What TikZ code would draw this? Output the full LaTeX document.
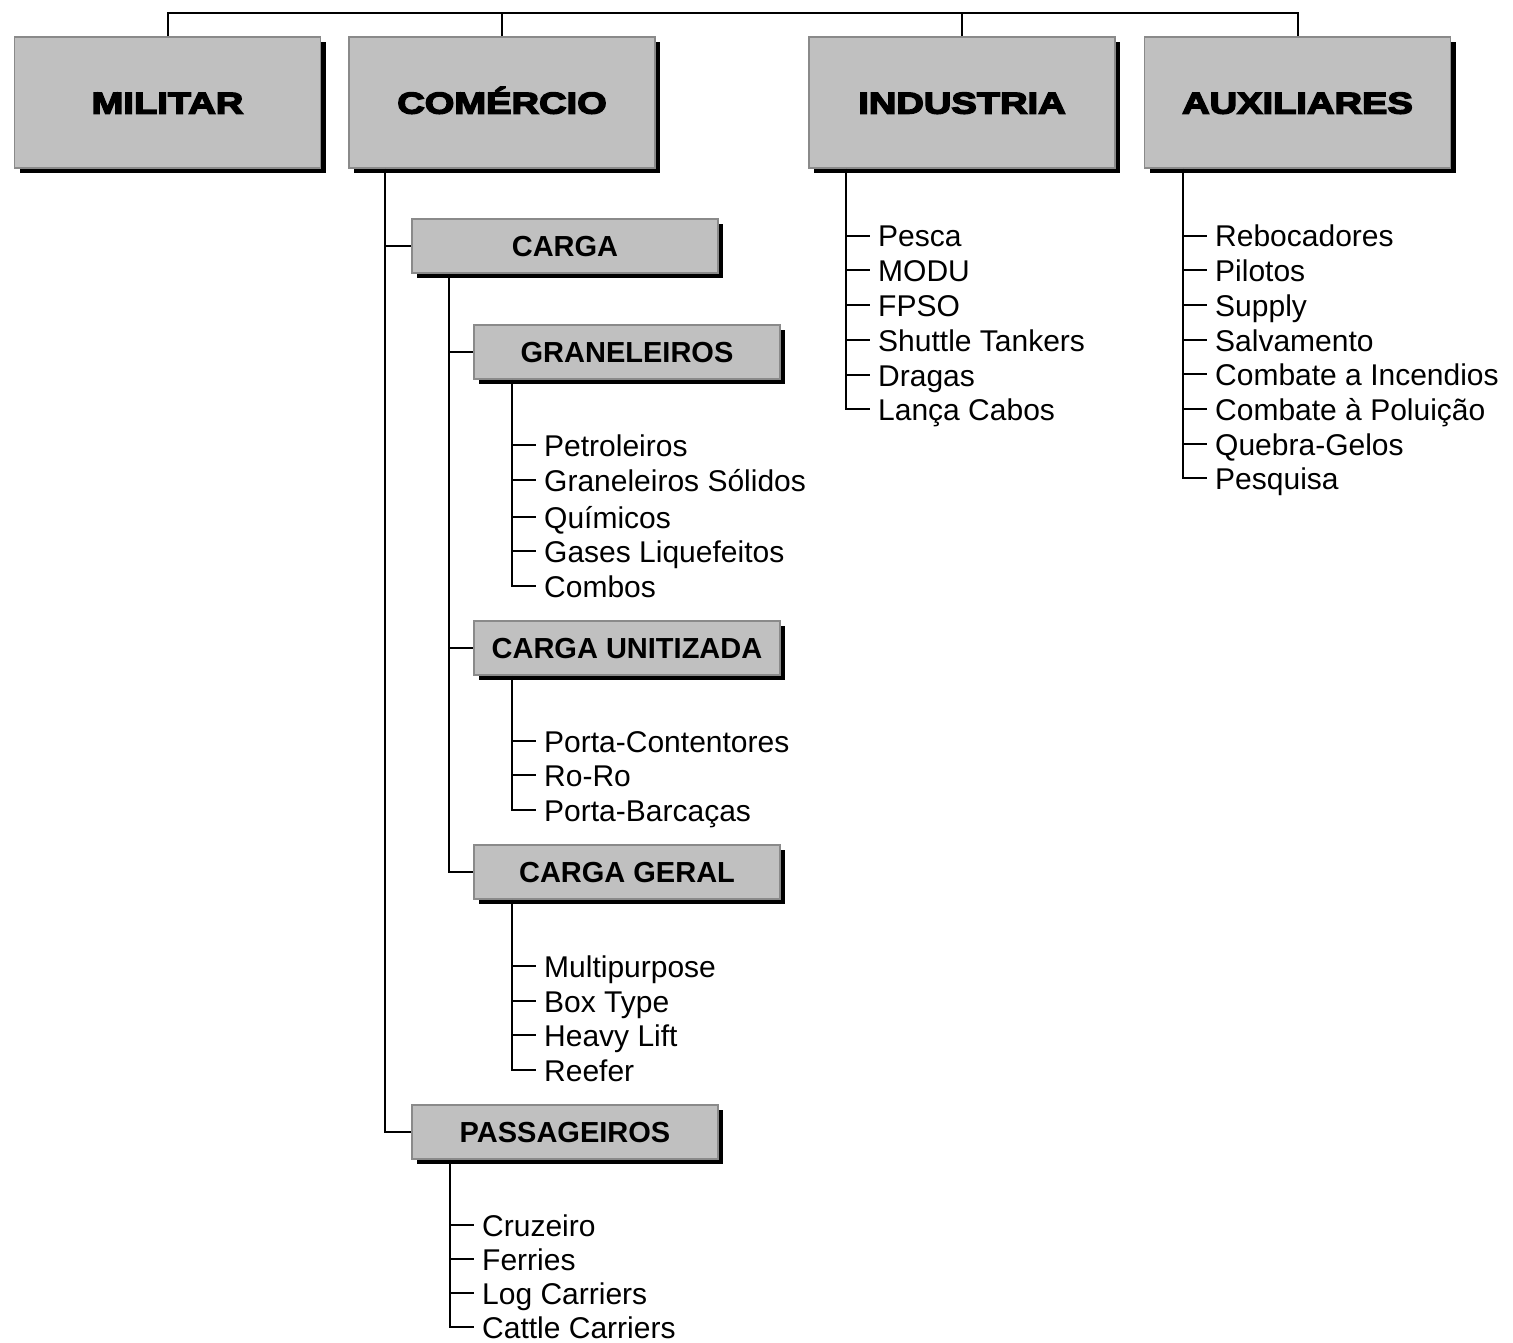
\documentclass[tikz,border=0pt]{standalone}
\usepackage{fontspec}
\setmainfont{Liberation Sans}
\newfontfamily\heavy{Liberation Sans Bold}[FakeBold=5,FakeStretch=1.27]
\usetikzlibrary{shadows,calc}
\definecolor{boxgray}{HTML}{C0C0C0}
\definecolor{edgegray}{HTML}{8A8A8A}
\begin{document}
\begin{tikzpicture}[x=1pt,y=-1pt,
  shadowbox/.style={draw=edgegray, line width=1.5pt, fill=boxgray, inner sep=0pt,
     minimum width=306pt, drop shadow={shadow xshift=5pt, shadow yshift=-5pt, fill=black, opacity=1}},
  topbox/.style={shadowbox, minimum height=131pt, text height=22pt, text depth=0pt, font=\heavy\fontsize{30}{30}\selectfont},
  subbox/.style={shadowbox, minimum height=54pt, text height=21pt, text depth=0pt, font=\bfseries\fontsize{29}{29}\selectfont},
  leaf/.style={anchor=west, inner sep=0pt, text height=22pt, text depth=0pt, font=\fontsize{30}{30}\selectfont},
  conn/.style={line width=2pt, black}]
\useasboundingbox[fill=white] (0,0) rectangle (1513,1343);
% top level
\node[topbox] (mil) at (167.5,102.5) {MILITAR};
\node[topbox] (com) at (502,102.5) {COMÉRCIO};
\node[topbox] (ind) at (962,102.5) {INDUSTRIA};
\node[topbox] (aux) at (1297.5,102.5) {AUXILIARES};
\coordinate (topbar) at (0,13);
\draw[conn] (mil.north) -- (mil.north |- topbar) -- (aux.north |- topbar) -- (aux.north);
\draw[conn] (com.north) -- (com.north |- topbar);
\draw[conn] (ind.north) -- (ind.north |- topbar);
% second level
\node[subbox] (carga) at (565,246) {CARGA};
\node[subbox] (pas) at (565,1132) {PASSAGEIROS};
\node[subbox] (gran) at (627,352) {GRANELEIROS};
\node[subbox] (unit) at (627,648) {CARGA UNITIZADA};
\node[subbox] (geral) at (627,872) {CARGA GERAL};
\draw[conn] ([xshift=-26pt]carga.west |- com.south) |- (pas.west);
\draw[conn] ([xshift=-26pt]carga.west) -- (carga.west);
\draw[conn] ([xshift=-24pt]gran.west |- carga.south) |- (geral.west);
\draw[conn] ([xshift=-24pt]gran.west) -- (gran.west);
\draw[conn] ([xshift=-24pt]unit.west) -- (unit.west);
% leaves: graneleiros
\node[leaf] (g1) at (544,445) {Petroleiros};
\node[leaf] (g2) at (544,480) {Graneleiros Sólidos};
\node[leaf] (g3) at (544,517) {Químicos};
\node[leaf] (g4) at (544,551) {Gases Liquefeitos};
\node[leaf] (g5) at (544,586) {Combos};
\draw[conn] ([xshift=-32pt]g1.west |- gran.south) |- ([xshift=-8pt]g5.west);
\foreach \n in {g1,g2,g3,g4} \draw[conn] ([xshift=-32pt]\n.west) -- ([xshift=-8pt]\n.west);
% unitizada
\node[leaf] (u1) at (544,741) {Porta-Contentores};
\node[leaf] (u2) at (544,775) {Ro-Ro};
\node[leaf] (u3) at (544,810) {Porta-Barcaças};
\draw[conn] ([xshift=-32pt]u1.west |- unit.south) |- ([xshift=-8pt]u3.west);
\foreach \n in {u1,u2} \draw[conn] ([xshift=-32pt]\n.west) -- ([xshift=-8pt]\n.west);
% geral
\node[leaf] (c1) at (544,966) {Multipurpose};
\node[leaf] (c2) at (544,1001) {Box Type};
\node[leaf] (c3) at (544,1035) {Heavy Lift};
\node[leaf] (c4) at (544,1070) {Reefer};
\draw[conn] ([xshift=-32pt]c1.west |- geral.south) |- ([xshift=-8pt]c4.west);
\foreach \n in {c1,c2,c3} \draw[conn] ([xshift=-32pt]\n.west) -- ([xshift=-8pt]\n.west);
% passageiros
\node[leaf] (p1) at (482,1225) {Cruzeiro};
\node[leaf] (p2) at (482,1259) {Ferries};
\node[leaf] (p3) at (482,1293) {Log Carriers};
\node[leaf] (p4) at (482,1327) {Cattle Carriers};
\draw[conn] ([xshift=-32pt]p1.west |- pas.south) |- ([xshift=-8pt]p4.west);
\foreach \n in {p1,p2,p3} \draw[conn] ([xshift=-32pt]\n.west) -- ([xshift=-8pt]\n.west);
% industria
\node[leaf] (i1) at (878,236) {Pesca};
\node[leaf] (i2) at (878,270) {MODU};
\node[leaf] (i3) at (878,305) {FPSO};
\node[leaf] (i4) at (878,340) {Shuttle Tankers};
\node[leaf] (i5) at (878,375) {Dragas};
\node[leaf] (i6) at (878,409) {Lança Cabos};
\draw[conn] ([xshift=-32pt]i1.west |- ind.south) |- ([xshift=-8pt]i6.west);
\foreach \n in {i1,i2,i3,i4,i5} \draw[conn] ([xshift=-32pt]\n.west) -- ([xshift=-8pt]\n.west);
% auxiliares
\node[leaf] (a1) at (1215,236) {Rebocadores};
\node[leaf] (a2) at (1215,270) {Pilotos};
\node[leaf] (a3) at (1215,305) {Supply};
\node[leaf] (a4) at (1215,340) {Salvamento};
\node[leaf] (a5) at (1215,374) {Combate a Incendios};
\node[leaf] (a6) at (1215,409) {Combate à Poluição};
\node[leaf] (a7) at (1215,444) {Quebra-Gelos};
\node[leaf] (a8) at (1215,478) {Pesquisa};
\draw[conn] ([xshift=-32pt]a1.west |- aux.south) |- ([xshift=-8pt]a8.west);
\foreach \n in {a1,a2,a3,a4,a5,a6,a7} \draw[conn] ([xshift=-32pt]\n.west) -- ([xshift=-8pt]\n.west);
\end{tikzpicture}
\end{document}
